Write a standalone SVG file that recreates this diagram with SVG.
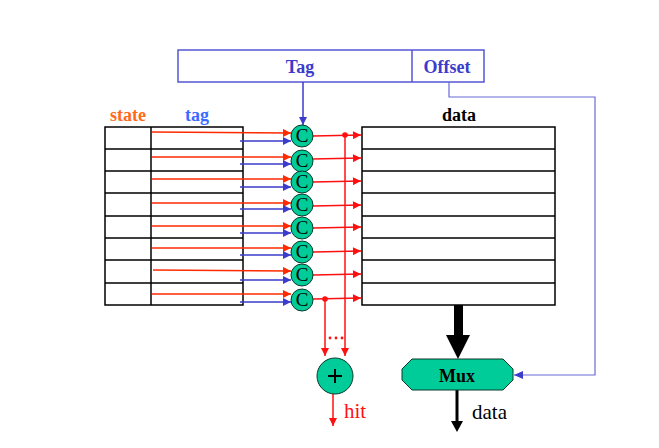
<svg xmlns="http://www.w3.org/2000/svg" width="659" height="448" viewBox="0 0 659 448">
<style>
.b{fill:none;stroke:#000;stroke-width:1.5}
.r{stroke:#ff2a00;stroke-width:1.5;fill:none}
.rr{stroke:#ff1010;stroke-width:1.5;fill:none}
.bl{stroke:#3b3bcc;stroke-width:1.5;fill:none}
.cmp circle{fill:#00cc99;stroke:#0a3a2a;stroke-width:1}
.cmp text{font-family:"Liberation Serif",serif;font-size:19px;text-anchor:middle;fill:#000}
.lbl{font-family:"Liberation Serif",serif;font-weight:bold;font-size:18px}
</style>
<defs>
<marker id="ar" viewBox="0 0 10 10" refX="10" refY="5" markerWidth="10" markerHeight="8" markerUnits="userSpaceOnUse" orient="auto"><path d="M0,0L10,5L0,10z" fill="#ff2a00"/></marker>
<marker id="ar2" viewBox="0 0 10 10" refX="10" refY="5" markerWidth="10" markerHeight="8" markerUnits="userSpaceOnUse" orient="auto"><path d="M0,0L10,5L0,10z" fill="#ff1010"/></marker>
<marker id="ab" viewBox="0 0 10 10" refX="10" refY="5" markerWidth="10" markerHeight="8" markerUnits="userSpaceOnUse" orient="auto"><path d="M0,0L10,5L0,10z" fill="#3b3bcc"/></marker>
</defs>

<g id="address">
<rect x="178" y="50" width="306" height="32" fill="none" stroke="#5555d5" stroke-width="1.5"/>
<line x1="412" y1="50" x2="412" y2="82" stroke="#5555d5" stroke-width="1.5"/>
<text class="lbl" x="300" y="73" text-anchor="middle" fill="#3b3bcc">Tag</text>
<text class="lbl" x="447" y="73" text-anchor="middle" fill="#3b3bcc">Offset</text>
</g>

<g id="labels">
<text class="lbl" x="128" y="121" text-anchor="middle" fill="#ff6a1a">state</text>
<text class="lbl" x="197" y="121" text-anchor="middle" fill="#3b6bff">tag</text>
<text class="lbl" x="459" y="121" text-anchor="middle" fill="#000">data</text>
</g>

<g id="tag-array">
<rect x="105" y="127" width="138" height="178" class="b"/>
<line x1="151" y1="127" x2="151" y2="305" class="b"/>
<path class="b" d="M105,149H243M105,171H243M105,193H243M105,216H243M105,238H243M105,260H243M105,283H243"/>
</g>

<g id="data-array">
<rect x="362" y="127" width="193" height="178" class="b"/>
<path class="b" d="M362,149H555M362,171H555M362,193H555M362,216H555M362,238H555M362,260H555M362,283H555"/>
</g>

<g id="connectors">
<path class="r" marker-end="url(#ar)" d="M152,132L291,133"/>
<path class="r" marker-end="url(#ar)" d="M152,157L291,157"/>
<path class="r" marker-end="url(#ar)" d="M152,179L291,179"/>
<path class="r" marker-end="url(#ar)" d="M152,203L291,203"/>
<path class="r" marker-end="url(#ar)" d="M152,226L291,226"/>
<path class="r" marker-end="url(#ar)" d="M152,248L291,248"/>
<path class="r" marker-end="url(#ar)" d="M153,270L291,271"/>
<path class="r" marker-end="url(#ar)" d="M152,294L291,294"/>
<path class="bl" marker-end="url(#ab)" d="M240,141H291"/>
<path class="bl" marker-end="url(#ab)" d="M240,164H291"/>
<path class="bl" marker-end="url(#ab)" d="M240,187H291"/>
<path class="bl" marker-end="url(#ab)" d="M240,209H291"/>
<path class="bl" marker-end="url(#ab)" d="M240,233H291"/>
<path class="bl" marker-end="url(#ab)" d="M240,255H291"/>
<path class="bl" marker-end="url(#ab)" d="M240,280H291"/>
<path class="bl" marker-end="url(#ab)" d="M240,302H291"/>
<path class="bl" marker-end="url(#ab)" d="M303,82V125"/>
<path stroke="#6a6ad8" stroke-width="1.2" fill="none" d="M449,82V97H595V375H514"/>
<path d="M514,375L523,371L523,379z" fill="#3b3bcc"/>
<path class="rr" marker-end="url(#ar2)" d="M313,136L361,135"/>
<path class="rr" marker-end="url(#ar2)" d="M312,159L361,158"/>
<path class="rr" marker-end="url(#ar2)" d="M313,182L361,181"/>
<path class="rr" marker-end="url(#ar2)" d="M313,206L361,205"/>
<path class="rr" marker-end="url(#ar2)" d="M313,228L361,227"/>
<path class="rr" marker-end="url(#ar2)" d="M313,252L361,251"/>
<path class="rr" marker-end="url(#ar2)" d="M313,275L361,274"/>
<path class="rr" marker-end="url(#ar2)" d="M313,299L361,298"/>
<path class="rr" marker-end="url(#ar2)" d="M345,135V356"/>
<path class="rr" marker-end="url(#ar2)" d="M325,299V356"/>
<circle cx="345" cy="135" r="2.8" fill="#ff1010"/>
<circle cx="325" cy="299" r="2.8" fill="#ff1010"/>
<circle cx="330" cy="338" r="1.4" fill="#ff1010"/>
<circle cx="336" cy="338" r="1.4" fill="#ff1010"/>
<circle cx="342" cy="338" r="1.4" fill="#ff1010"/>
<path class="rr" marker-end="url(#ar2)" d="M333,394V426"/>
<rect x="454" y="305" width="9" height="31" fill="#000"/>
<path d="M446,335L470,335L458,359z" fill="#000"/>
<path stroke="#000" stroke-width="3" fill="none" d="M457,390V423"/>
<path d="M451,421L463,421L457,432z" fill="#000"/>
</g>

<g id="comparators" class="cmp">
<g id="c1"><circle cx="302" cy="136" r="11"/><text x="302" y="142">C</text></g>
<g id="c2"><circle cx="302" cy="161" r="11"/><text x="302" y="167">C</text></g>
<g id="c3"><circle cx="302" cy="182" r="11"/><text x="302" y="188">C</text></g>
<g id="c4"><circle cx="302" cy="205" r="11"/><text x="302" y="211">C</text></g>
<g id="c5"><circle cx="302" cy="228" r="11"/><text x="302" y="234">C</text></g>
<g id="c6"><circle cx="302" cy="252" r="11"/><text x="302" y="258">C</text></g>
<g id="c7"><circle cx="302" cy="275" r="11"/><text x="302" y="281">C</text></g>
<g id="c8"><circle cx="302" cy="300" r="11"/><text x="302" y="306">C</text></g>
</g>

<g id="or-gate">
<circle cx="335" cy="376" r="18" fill="#00cc99" stroke="#0a3a2a" stroke-width="1"/>
<path d="M328,376H342M335,369V383" stroke="#000" stroke-width="2"/>
</g>
<text x="344" y="418" font-family="Liberation Serif,serif" font-size="21" fill="#ff1010">hit</text>

<g id="mux">
<path d="M412,359H503L513,369V380L503,390H412L402,380V369z" fill="#00cc99" stroke="#0a3a2a" stroke-width="1"/>
<text class="lbl" x="457" y="382" text-anchor="middle" fill="#000">Mux</text>
</g>
<text x="472" y="419" font-family="Liberation Serif,serif" font-size="21" fill="#000">data</text>
</svg>
